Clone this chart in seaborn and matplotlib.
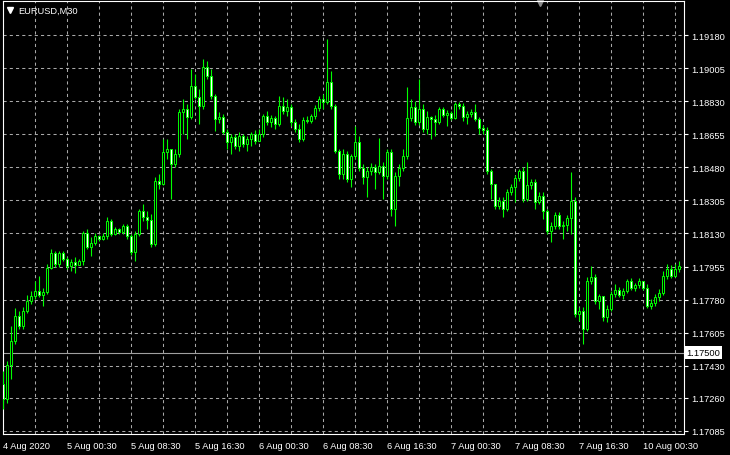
import numpy as np
import pandas as pd
import matplotlib
matplotlib.use("Agg")
import matplotlib.pyplot as plt
import seaborn as sns

SYMBOL = "EURUSD,M30"
FIRST_OPEN = 1.17334

closes = [
    1.17254, 1.17434, 1.17561, 1.17693, 1.17640, 1.17720, 1.17773, 1.17799, 1.17826, 1.17804,
    1.17820, 1.17947, 1.18027, 1.17968, 1.18027, 1.17995, 1.17958, 1.17979, 1.17963, 1.17984,
    1.18132, 1.18058, 1.18080, 1.18117, 1.18101, 1.18117, 1.18196, 1.18127, 1.18154, 1.18138,
    1.18169, 1.18117, 1.18032, 1.18127, 1.18249, 1.18217, 1.18201, 1.18074, 1.18408, 1.18392,
    1.18561, 1.18577, 1.18497, 1.18550, 1.18772, 1.18788, 1.18746, 1.18910, 1.18852, 1.18804,
    1.19011, 1.18963, 1.18857, 1.18735, 1.18746, 1.18667, 1.18614, 1.18640, 1.18593, 1.18646,
    1.18603, 1.18630, 1.18656, 1.18619, 1.18656, 1.18751, 1.18720, 1.18741, 1.18709, 1.18804,
    1.18778, 1.18799, 1.18720, 1.18683, 1.18630, 1.18730, 1.18725, 1.18751, 1.18794, 1.18841,
    1.18825, 1.18931, 1.18804, 1.18566, 1.18445, 1.18550, 1.18418, 1.18540, 1.18614, 1.18476,
    1.18429, 1.18460, 1.18482, 1.18455, 1.18487, 1.18434, 1.18561, 1.18259, 1.18434, 1.18476,
    1.18540, 1.18741, 1.18799, 1.18720, 1.18788, 1.18683, 1.18746, 1.18735, 1.18720, 1.18788,
    1.18757, 1.18767, 1.18741, 1.18815, 1.18804, 1.18746, 1.18762, 1.18772, 1.18735, 1.18688,
    1.18677, 1.18460, 1.18392, 1.18275, 1.18302, 1.18259, 1.18349, 1.18376, 1.18423, 1.18460,
    1.18312, 1.18386, 1.18402, 1.18296, 1.18328, 1.18249, 1.18143, 1.18169, 1.18228, 1.18169,
    1.18175, 1.18212, 1.18302, 1.17704, 1.17720, 1.17625, 1.17879, 1.17900, 1.17773, 1.17799,
    1.17688, 1.17730, 1.17810, 1.17831, 1.17804, 1.17826, 1.17879, 1.17841, 1.17857, 1.17879,
    1.17841, 1.17746, 1.17762, 1.17794, 1.17815, 1.17905, 1.17942, 1.17905, 1.17942, 1.17958,
]

highs = [
    1.17402, 1.17455, 1.17640, 1.17736, 1.17720, 1.17741, 1.17804, 1.17826, 1.17879, 1.17905,
    1.17841, 1.17968, 1.18048, 1.18037, 1.18037, 1.18037, 1.18005, 1.17995, 1.18005, 1.17995,
    1.18143, 1.18154, 1.18111, 1.18132, 1.18122, 1.18132, 1.18217, 1.18206, 1.18164, 1.18159,
    1.18180, 1.18180, 1.18127, 1.18143, 1.18259, 1.18286, 1.18249, 1.18233, 1.18429, 1.18445,
    1.18630, 1.18630, 1.18577, 1.18577, 1.18788, 1.18841, 1.18815, 1.19000, 1.18974, 1.18894,
    1.19053, 1.19042, 1.19000, 1.18868, 1.18772, 1.18762, 1.18683, 1.18656, 1.18656, 1.18667,
    1.18656, 1.18646, 1.18667, 1.18677, 1.18683, 1.18762, 1.18778, 1.18757, 1.18751, 1.18857,
    1.18852, 1.18841, 1.18815, 1.18735, 1.18709, 1.18746, 1.18751, 1.18762, 1.18810, 1.18857,
    1.18868, 1.19159, 1.18989, 1.18815, 1.18577, 1.18577, 1.18566, 1.18550, 1.18698, 1.18646,
    1.18497, 1.18482, 1.18503, 1.18497, 1.18635, 1.18508, 1.18577, 1.18577, 1.18455, 1.18497,
    1.18577, 1.18905, 1.18841, 1.18831, 1.18947, 1.18815, 1.18778, 1.18751, 1.18757, 1.18799,
    1.18799, 1.18783, 1.18778, 1.18825, 1.18825, 1.18820, 1.18778, 1.18788, 1.18815, 1.18746,
    1.18704, 1.18693, 1.18471, 1.18392, 1.18323, 1.18323, 1.18365, 1.18392, 1.18439, 1.18471,
    1.18482, 1.18508, 1.18418, 1.18418, 1.18349, 1.18349, 1.18259, 1.18191, 1.18244, 1.18244,
    1.18196, 1.18228, 1.18455, 1.18323, 1.17741, 1.17741, 1.17900, 1.17958, 1.17916, 1.17810,
    1.17794, 1.17752, 1.17826, 1.17863, 1.17847, 1.17841, 1.17889, 1.17894, 1.17868, 1.17894,
    1.17879, 1.17863, 1.17783, 1.17810, 1.17836, 1.17931, 1.17968, 1.17963, 1.17968, 1.17984,
]

lows = [
    1.17201, 1.17233, 1.17360, 1.17545, 1.17625, 1.17625, 1.17709, 1.17757, 1.17783, 1.17794,
    1.17746, 1.17810, 1.17942, 1.17953, 1.17953, 1.17984, 1.17942, 1.17931, 1.17921, 1.17963,
    1.17963, 1.18048, 1.18011, 1.18069, 1.18090, 1.18095, 1.18101, 1.18117, 1.18122, 1.18127,
    1.18127, 1.18101, 1.18016, 1.17984, 1.18117, 1.18196, 1.18154, 1.18058, 1.18064, 1.18365,
    1.18386, 1.18524, 1.18312, 1.18482, 1.18534, 1.18656, 1.18630, 1.18735, 1.18841, 1.18709,
    1.18788, 1.18947, 1.18841, 1.18672, 1.18714, 1.18656, 1.18577, 1.18550, 1.18577, 1.18566,
    1.18587, 1.18566, 1.18593, 1.18603, 1.18630, 1.18640, 1.18704, 1.18693, 1.18683, 1.18698,
    1.18762, 1.18751, 1.18698, 1.18667, 1.18614, 1.18619, 1.18714, 1.18714, 1.18735, 1.18778,
    1.18788, 1.18815, 1.18788, 1.18556, 1.18418, 1.18418, 1.18402, 1.18376, 1.18524, 1.18460,
    1.18392, 1.18323, 1.18439, 1.18365, 1.18445, 1.18312, 1.18418, 1.18222, 1.18169, 1.18381,
    1.18460, 1.18524, 1.18725, 1.18704, 1.18704, 1.18667, 1.18656, 1.18630, 1.18646, 1.18709,
    1.18746, 1.18698, 1.18730, 1.18735, 1.18788, 1.18725, 1.18709, 1.18746, 1.18725, 1.18656,
    1.18656, 1.18445, 1.18312, 1.18259, 1.18259, 1.18217, 1.18249, 1.18333, 1.18296, 1.18408,
    1.18296, 1.18302, 1.18365, 1.18259, 1.18286, 1.18206, 1.18127, 1.18085, 1.18154, 1.18154,
    1.18101, 1.18143, 1.18127, 1.17688, 1.17667, 1.17545, 1.17614, 1.17863, 1.17757, 1.17730,
    1.17667, 1.17662, 1.17720, 1.17794, 1.17794, 1.17783, 1.17815, 1.17831, 1.17826, 1.17841,
    1.17831, 1.17736, 1.17730, 1.17746, 1.17773, 1.17804, 1.17889, 1.17894, 1.17900, 1.17926,
]

time_labels = ["4 Aug 2020", "5 Aug 00:30", "5 Aug 08:30", "5 Aug 16:30", "6 Aug 00:30",
               "6 Aug 08:30", "6 Aug 16:30", "7 Aug 00:30", "7 Aug 08:30", "7 Aug 16:30",
               "10 Aug 00:30"]
price_levels = [1.19180, 1.19005, 1.18830, 1.18655, 1.18480, 1.18305, 1.18130,
                1.17955, 1.17780, 1.17605, 1.17430, 1.17260, 1.17085]
last_price = 1.17500

LIME = "#00ff00"
GRID = "#a8a8a8"

df = pd.DataFrame({"close": closes, "high": highs, "low": lows})
df["open"] = [FIRST_OPEN] + closes[:-1]
df["bar"] = np.arange(len(df))
df["bull"] = df["close"] >= df["open"]

sns.set_theme(style="dark", rc={
    "figure.facecolor": "black",
    "axes.facecolor": "black",
    "axes.edgecolor": "white",
    "axes.linewidth": 0.8,
    "text.color": "white",
    "xtick.color": "white",
    "ytick.color": "white",
})
plt.rcParams["font.family"] = ["Liberation Sans", "DejaVu Sans"]

fig = plt.figure(figsize=(7.3, 4.56), dpi=100)
ax = fig.add_axes([2.5 / 730, 21 / 456, 681.5 / 730, 433 / 456])

# candles: wicks then bodies
ax.vlines(df["bar"], df["low"], df["high"], color=LIME, linewidth=0.8, zorder=3)
ax.bar(df["bar"], df["close"] - df["open"], bottom=df["open"], width=0.55,
       color=np.where(df["bull"], "black", "white"), edgecolor=LIME,
       linewidth=0.7, zorder=4)

ax.set_xlim(-0.1, 170.2)
ax.set_ylim(1.17069, 1.19360)

# grid and axes in MT4 style
label_bars = list(range(0, 16 * len(time_labels), 16))
ax.set_xticks(label_bars)
ax.set_xticklabels(time_labels, ha="left", fontsize=6.7)
ax.set_xticks(list(range(8, 170, 16)), minor=True)
ax.yaxis.tick_right()
ax.set_yticks(price_levels)
ax.set_yticklabels([f"{p:.5f}" for p in price_levels], fontsize=6.7)
ax.tick_params(axis="x", which="major", length=3, width=0.8, pad=2, colors="white")
ax.tick_params(axis="x", which="minor", length=0)
ax.tick_params(axis="y", length=3, width=0.8, pad=2.5, colors="white")
ax.grid(True, which="both", color=GRID, linestyle=(0, (3, 3)), linewidth=0.75)
ax.set_axisbelow(True)
for s in ax.spines.values():
    s.set_color("white")
    s.set_visible(True)

# last price line with label box
ax.axhline(last_price, color="#a0a0a0", linewidth=0.8, zorder=2)
ax.text(1.0037, last_price, f"{last_price:.5f}", transform=ax.get_yaxis_transform(),
        ha="left", va="center", color="black", fontsize=6.7,
        bbox=dict(boxstyle="square,pad=0.18", fc="white", ec="none"))

# symbol caption and chart shift marker
ax.plot([0.0103], [0.979], marker="v", color="white", markersize=4,
        transform=ax.transAxes, clip_on=False)
ax.text(0.0226, 0.979, SYMBOL, transform=ax.transAxes, ha="left", va="center",
        color="white", fontsize=6.7)
ax.plot([0.789], [0.996], marker="v", color="#8a8a8a", markersize=5,
        transform=ax.transAxes, clip_on=False)

fig.savefig("out.png", dpi=100, facecolor="black")
